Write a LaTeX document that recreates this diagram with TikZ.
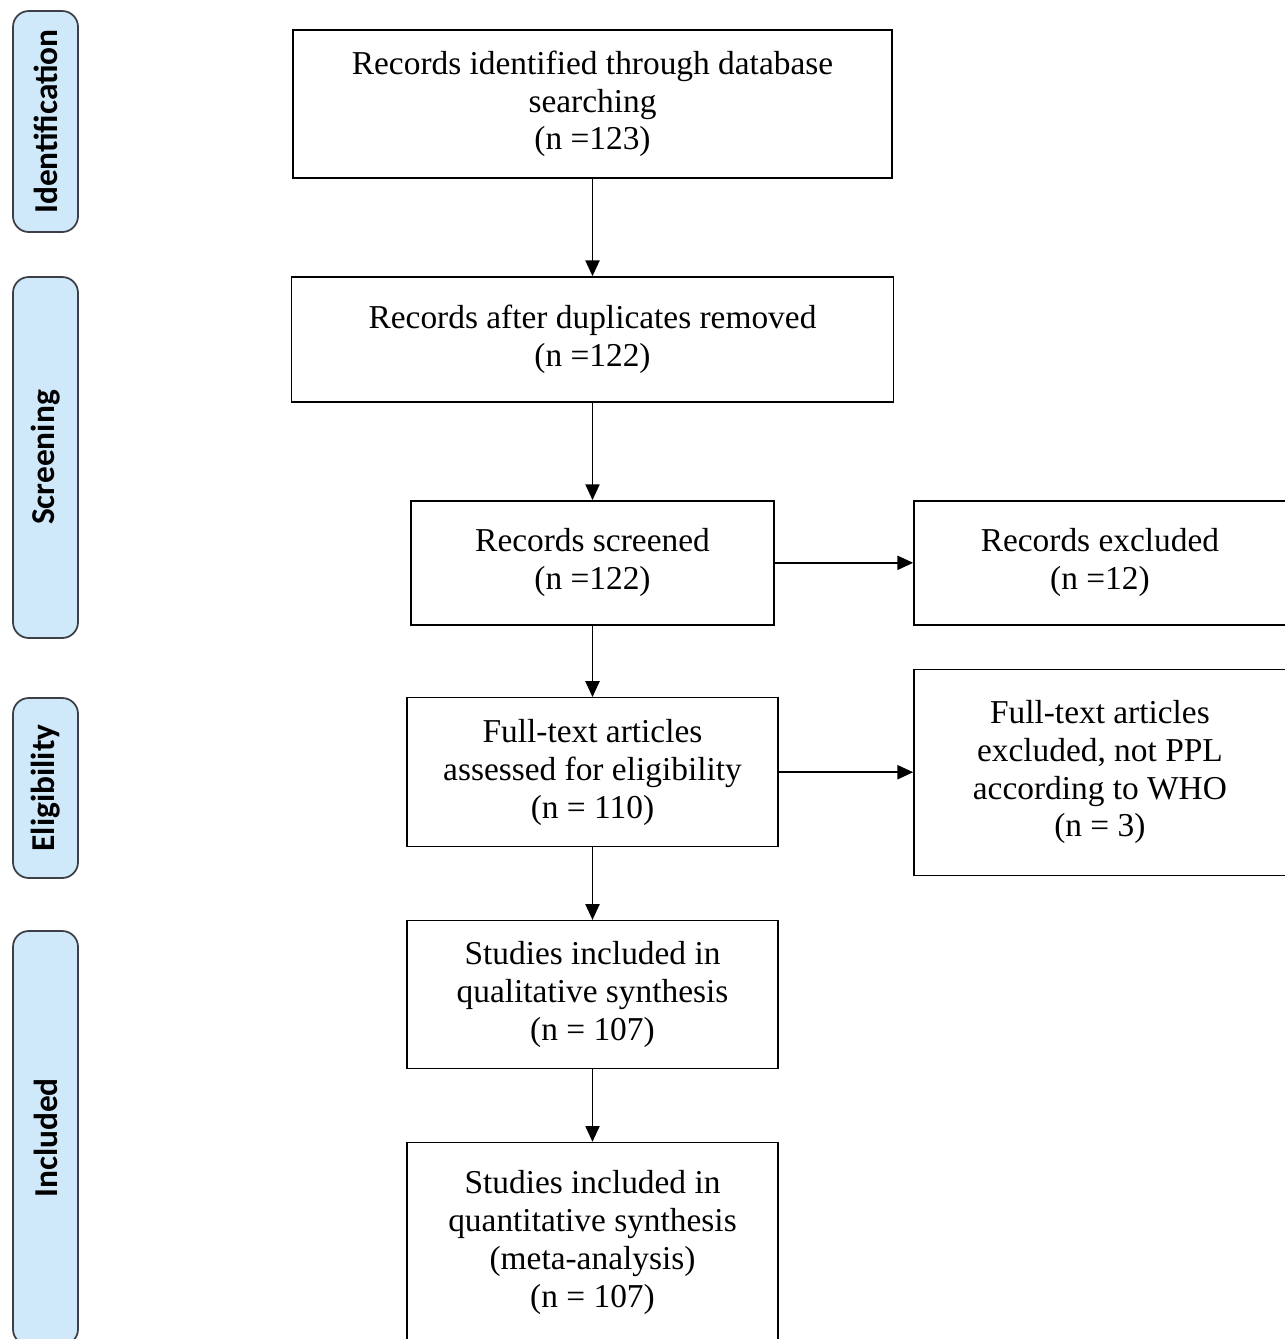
\documentclass[tikz,border=0pt]{standalone}
\usepackage{fontspec}
\setmainfont{Liberation Serif}
\newfontfamily\phasefont{Carlito}
\usepackage{xcolor}
\usetikzlibrary{positioning,arrows.meta}
\definecolor{phaseblue}{RGB}{207,233,251}
\definecolor{phaseline}{RGB}{60,64,70}

\begin{document}
\begin{tikzpicture}[
  box/.style={draw,rectangle,line width=0.8pt,align=center,inner sep=2pt,font=\fontsize{19}{21.5}\selectfont},
  phase/.style={draw=phaseline,fill=phaseblue,rounded corners=9pt,line width=1pt,rotate=90,minimum height=1.3cm,font=\phasefont\bfseries\fontsize{19}{22}\selectfont},
  arrow/.style={-{Triangle[length=9pt,width=8pt]},line width=1.1pt}]
    \useasboundingbox (0,0) rectangle (25.7,-26.78);
    % flow boxes
    \node (records_identified)
    [box,minimum width=11.98cm,minimum height=2.96cm] at (11.85,-2.08)
    {Records identified through database\\searching\\(n =123)};
    \node (records_deduplicated)
    [box,minimum width=12.04cm,minimum height=2.5cm,below=1.95cm of records_identified]
    {Records after duplicates removed\\(n =122)};
    \node (records_screened)
    [box,minimum width=7.26cm,minimum height=2.48cm,below=1.95cm of records_deduplicated]
    {Records screened\\(n =122)};
    \node (records_excluded)
    [box,minimum width=7.44cm,minimum height=2.48cm,right=2.77cm of records_screened]
    {Records excluded\\(n =12)};
    \node (fulltext_assessed)
    [box,minimum width=7.42cm,minimum height=2.98cm,below=1.43cm of records_screened]
    {Full-text articles\\assessed for eligibility\\(n = 110)};
    \node (fulltext_excluded)
    [box,minimum width=7.44cm,minimum height=4.12cm,right=2.69cm of fulltext_assessed]
    {Full-text articles\\excluded, not PPL\\according to WHO\\(n = 3)};
    \node (studies_qualitative)
    [box,minimum width=7.42cm,minimum height=2.96cm,below=1.45cm of fulltext_assessed]
    {Studies included in\\qualitative synthesis\\(n = 107)};
    \node (studies_quantitative)
    [box,minimum width=7.42cm,minimum height=4cm,below=1.45cm of studies_qualitative]
    {Studies included in\\quantitative synthesis\\(meta-analysis)\\(n = 107)};
    % phase labels
    \node (phase_identification) [phase,minimum width=4.42cm] at (0.91,-2.43) {Identification};
    \node (phase_screening) [phase,minimum width=7.22cm] at (0.91,-9.15) {Screening};
    \node (phase_eligibility) [phase,minimum width=3.6cm] at (0.91,-15.76) {Eligibility};
    \node (phase_included) [phase,minimum width=8.28cm] at (0.91,-22.76) {Included};
    % arrows
    \draw [arrow] (records_identified) -- (records_deduplicated);
    \draw [arrow] (records_deduplicated) -- (records_screened);
    \draw [arrow] (records_screened) -- (records_excluded);
    \draw [arrow] (records_screened) -- (fulltext_assessed);
    \draw [arrow] (fulltext_assessed) -- (fulltext_excluded);
    \draw [arrow] (fulltext_assessed) -- (studies_qualitative);
    \draw [arrow] (studies_qualitative) -- (studies_quantitative);
  \end{tikzpicture}
\end{document}
